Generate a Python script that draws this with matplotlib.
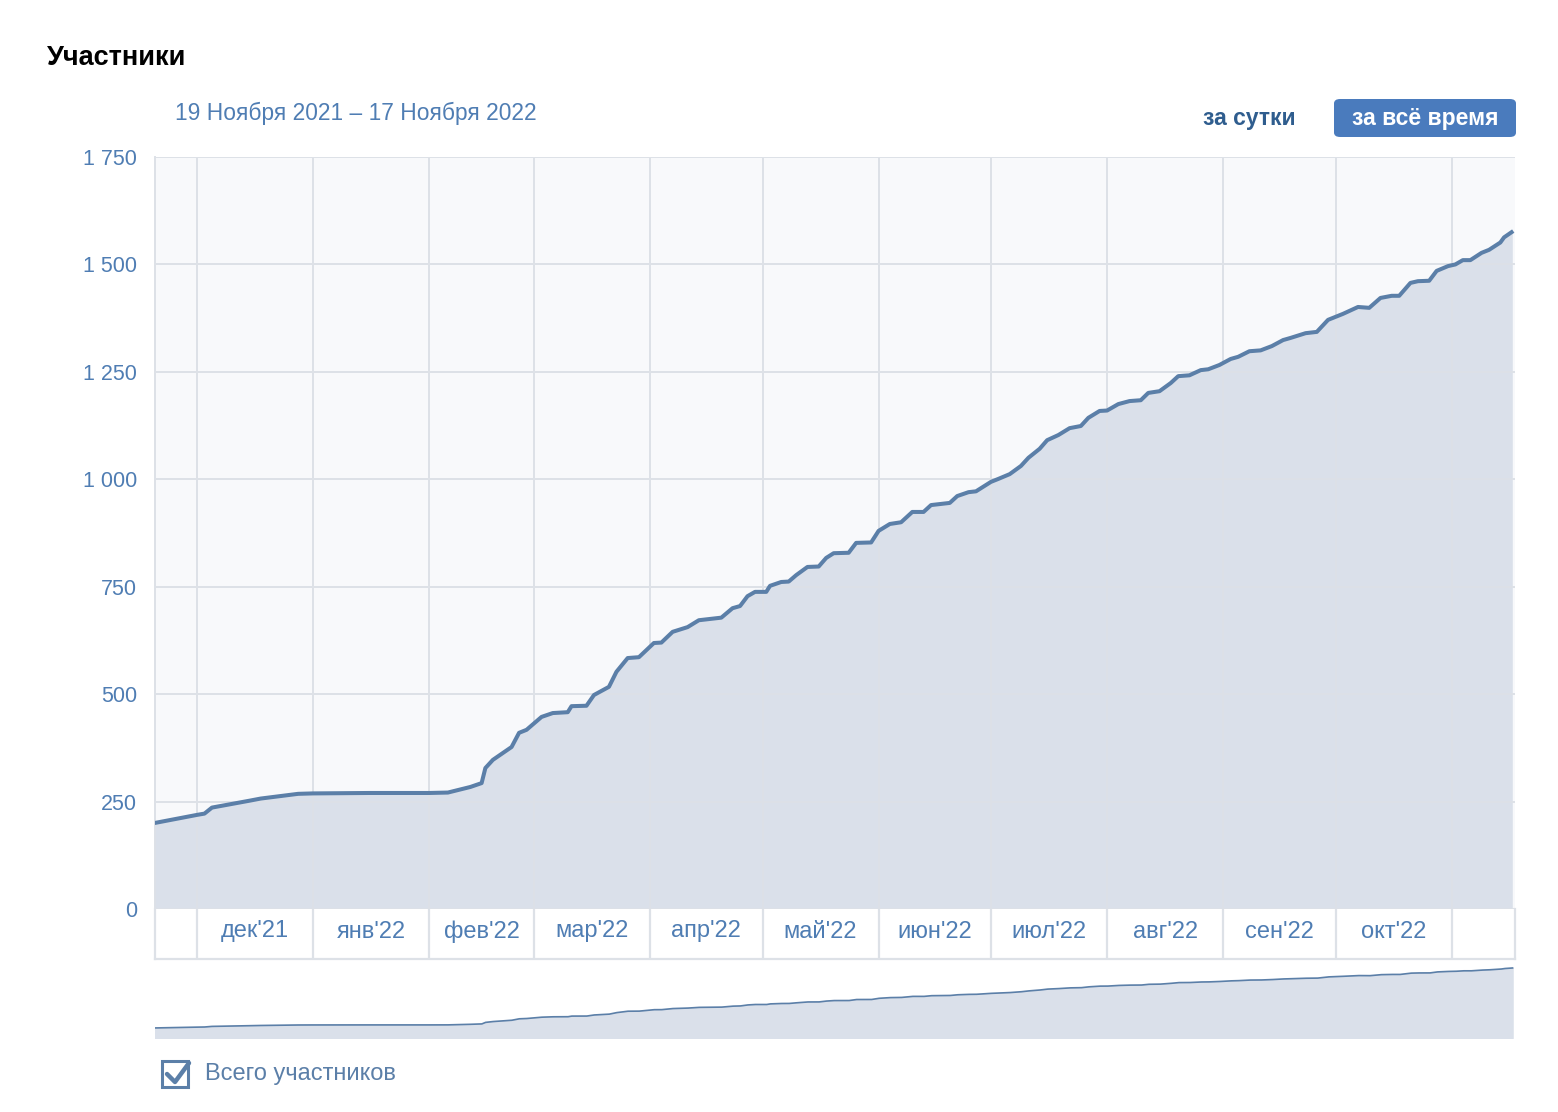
import matplotlib
matplotlib.use("Agg")
import matplotlib.pyplot as plt
from matplotlib.patches import FancyBboxPatch, Rectangle
from matplotlib.ticker import FuncFormatter
import numpy as np

plt.rcParams['font.family'] = ['Liberation Sans', 'DejaVu Sans']

# --- данные: общее число участников ---
dates = [
    "2021-11-19", "2021-12-01", "2021-12-03", "2021-12-05", "2021-12-15", "2021-12-18",
    "2021-12-28", "2022-01-01", "2022-01-16", "2022-02-01", "2022-02-06", "2022-02-12",
    "2022-02-15", "2022-02-16", "2022-02-18", "2022-02-23", "2022-02-25", "2022-02-27",
    "2022-03-03", "2022-03-06", "2022-03-10", "2022-03-11", "2022-03-15", "2022-03-17",
    "2022-03-21", "2022-03-23", "2022-03-26", "2022-03-29", "2022-04-02", "2022-04-04",
    "2022-04-07", "2022-04-11", "2022-04-14", "2022-04-20", "2022-04-23", "2022-04-25",
    "2022-04-27", "2022-04-29", "2022-05-02", "2022-05-03", "2022-05-06", "2022-05-08",
    "2022-05-10", "2022-05-13", "2022-05-16", "2022-05-18", "2022-05-20", "2022-05-24",
    "2022-05-26", "2022-05-30", "2022-06-01", "2022-06-04", "2022-06-07", "2022-06-10",
    "2022-06-13", "2022-06-15", "2022-06-20", "2022-06-22", "2022-06-25", "2022-06-27",
    "2022-07-01", "2022-07-03", "2022-07-06", "2022-07-09", "2022-07-11", "2022-07-14",
    "2022-07-16", "2022-07-19", "2022-07-22", "2022-07-25", "2022-07-27", "2022-07-30",
    "2022-08-01", "2022-08-04", "2022-08-07", "2022-08-10", "2022-08-12", "2022-08-15",
    "2022-08-18", "2022-08-20", "2022-08-23", "2022-08-26", "2022-08-28", "2022-08-31",
    "2022-09-03", "2022-09-05", "2022-09-08", "2022-09-11", "2022-09-14", "2022-09-17",
    "2022-09-19", "2022-09-23", "2022-09-26", "2022-09-29", "2022-10-03", "2022-10-07",
    "2022-10-10", "2022-10-13", "2022-10-16", "2022-10-18", "2022-10-21", "2022-10-23",
    "2022-10-26", "2022-10-28", "2022-10-31", "2022-11-02", "2022-11-04", "2022-11-06",
    "2022-11-09", "2022-11-11", "2022-11-14", "2022-11-15", "2022-11-17",
]
members = [
    199, 219, 222, 236, 252, 257,
    268, 269, 270, 270, 271, 284,
    293, 328, 347, 377, 410, 417,
    447, 456, 458, 472, 473, 498,
    517, 552, 584, 586, 619, 620,
    645, 656, 672, 678, 700, 705,
    728, 738, 738, 752, 761, 762,
    777, 796, 797, 817, 828, 829,
    852, 853, 880, 896, 900, 924,
    924, 940, 945, 961, 970, 972,
    994, 1001, 1012, 1031, 1050, 1071,
    1091, 1103, 1119, 1124, 1143, 1159,
    1160, 1175, 1182, 1184, 1201, 1205,
    1224, 1240, 1242, 1254, 1256, 1266,
    1280, 1285, 1298, 1300, 1310, 1324,
    1329, 1340, 1343, 1371, 1385, 1401,
    1399, 1422, 1427, 1427, 1457, 1461,
    1462, 1485, 1496, 1500, 1510, 1510,
    1527, 1534, 1551, 1563, 1575,
]
month_starts = ["2021-12-01", "2022-01-01", "2022-02-01", "2022-03-01", "2022-04-01",
                "2022-05-01", "2022-06-01", "2022-07-01", "2022-08-01", "2022-09-01",
                "2022-10-01", "2022-11-01"]
month_labels = ["дек'21", "янв'22", "фев'22", "мар'22", "апр'22", "май'22",
                "июн'22", "июл'22", "авг'22", "сен'22", "окт'22"]
y_ticks = [0, 250, 500, 750, 1000, 1250, 1500, 1750]

x = np.array(dates, dtype="datetime64[D]").astype("datetime64[h]")
y = np.array(members)
ms = np.array(month_starts, dtype="datetime64[D]").astype("datetime64[h]")
x0 = np.datetime64("2021-11-19T19")
x1 = np.datetime64("2022-11-17T22")

W, H = 1558, 1112
fig = plt.figure(figsize=(W / 100, H / 100), dpi=100)

def box(l, t, r, b):
    return [l / W, 1 - b / H, (r - l) / W, (b - t) / H]

LINE = "#5b7fa8"
FILL = "#dae0ea"
GRID = "#dde1e7"
BLUE = "#4f7db3"

# --- основной график ---
ax = fig.add_axes(box(155, 157, 1515, 909))
ax.set_facecolor("#f8f9fb")
ax.fill_between(x, y, 0, color=FILL, zorder=1)
ax.plot(x, y, color=LINE, lw=2.9, solid_joinstyle="round", zorder=3)
ax.set_xlim(x0, x1)
ax.set_ylim(0, 1750)
ax.set_yticks(y_ticks)
ax.yaxis.set_major_formatter(FuncFormatter(lambda v, p: f"{int(v):,}".replace(",", " ")))
ax.set_xticks(ms)
ax.set_xticklabels([])
ax.grid(True, color=GRID, lw=1.4, zorder=2)
ax.tick_params(length=0, labelsize=15.5, labelcolor=BLUE, pad=13)
for s in ["top", "right", "bottom"]:
    ax.spines[s].set_visible(False)
ax.spines["left"].set_color(GRID)
ax.spines["left"].set_linewidth(1.4)

# --- полоса месяцев ---
bx = fig.add_axes(box(155, 909, 1515, 959))
bx.set_xlim(x0, x1)
bx.set_ylim(0, 1)
for m in ms:
    bx.axvline(m, color=GRID, lw=1.6)
for i, lab in enumerate(month_labels):
    mid = ms[i] + (ms[i + 1] - ms[i]) / 2
    bx.text(mid, 0.55, lab, ha="center", va="center", fontsize=17, color=BLUE)
bx.set_xticks([])
bx.set_yticks([])
for s in bx.spines.values():
    s.set_color(GRID)
    s.set_linewidth(1.6)
bx.spines["top"].set_visible(False)

# --- навигатор ---
nx = fig.add_axes(box(155, 961, 1516, 1038))
nx.fill_between(x, y, -30, color=FILL)
nx.plot(x, y, color=LINE, lw=1.2)
nx.set_xlim(x0, x1)
nx.set_ylim(-30, 1735)
nx.axis("off")

# --- заголовки и кнопки ---
fig.text(47 / W, 1 - 58 / H, "Участники", fontsize=19.5, color="black", va="center", weight="bold")
fig.text(175 / W, 1 - 113 / H, "19 Ноября 2021 – 17 Ноября 2022", fontsize=16.4, color=BLUE, va="center")
fig.text(1249 / W, 1 - 118 / H, "за сутки", fontsize=16.5, color="#2f5d8e", va="center",
         ha="center", weight="bold")
btn = FancyBboxPatch((1334 / W, 1 - 137 / H), 182 / W, 38 / H,
                     boxstyle="round,pad=0,rounding_size=0.004", transform=fig.transFigure,
                     facecolor="#4a7bbd", edgecolor="none")
fig.patches.append(btn)
fig.text(1425 / W, 1 - 118 / H, "за всё время", fontsize=16.5, color="white", va="center",
         ha="center", weight="bold")

# --- чекбокс ---
cb = Rectangle((162 / W, 1 - 1087 / H), 26 / W, 26 / H, transform=fig.transFigure,
               facecolor="white", edgecolor="#5b7fa8", lw=2.2)
fig.patches.append(cb)
fig.lines.append(plt.Line2D([167 / W, 175 / W, 189 / W], [1 - 1074 / H, 1 - 1082 / H, 1 - 1063 / H],
                            transform=fig.transFigure, color="#5b7fa8", lw=3.2,
                            solid_capstyle="round"))
fig.text(205 / W, 1 - 1074 / H, "Всего участников", fontsize=17, color="#5b7fa8", va="center")

fig.savefig("out.png", dpi=100, facecolor="white")
